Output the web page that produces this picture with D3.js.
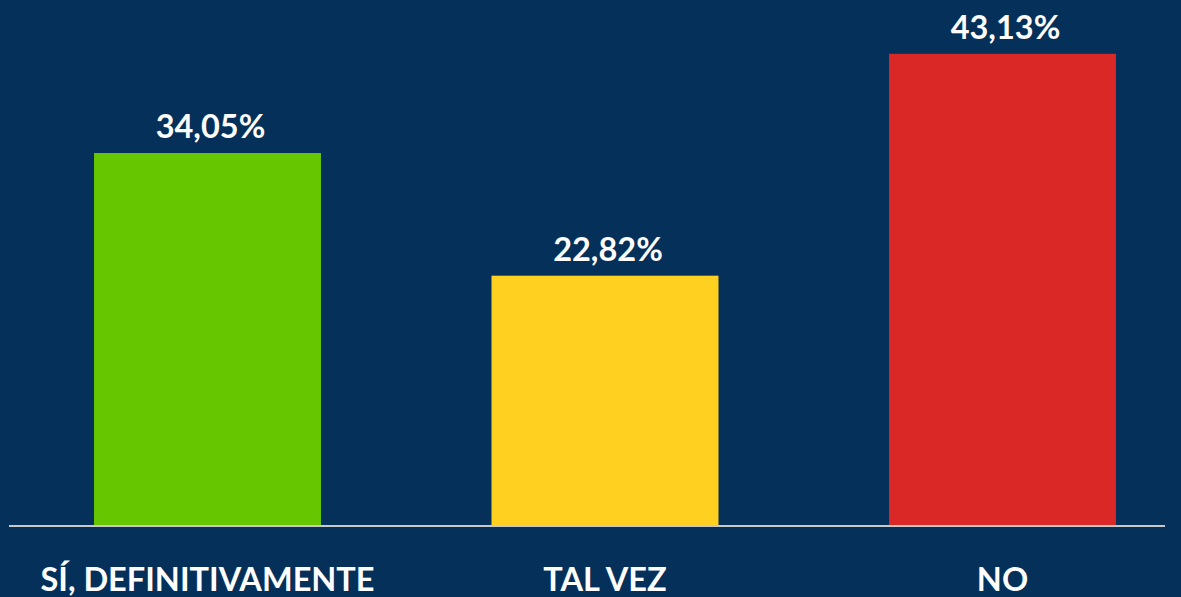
<!DOCTYPE html>
<meta charset="utf-8">
<style>
body{
	margin:0;
	background:#04305a;
	font-family:Lato, sans-serif;
}
</style>
<script src="https://cdn.jsdelivr.net/npm/d3@7"></script>
<div id="chart"></div>
<script>

var categories = ["SÍ, DEFINITIVAMENTE", "TAL VEZ", "NO"]
var values = [34.05, 22.82, 43.13]
var valueLabels = ["34,05%", "22,82%", "43,13%"]
var colors = ["#66c600", "#ffd01f", "#d92826"]

var width = 1181, height = 597
var baseline = 525

var svg = d3.select("#chart").append("svg")
	.attr("width", width).attr("height", height)

svg.append("rect").attr("width", width).attr("height", height).attr("fill", "#04305a")

// band layout so bars sit where they do in the picture
var x = d3.scaleBand()
	.domain(categories)
	.range([8.75, 1201.25])
	.paddingInner(0.429)
	.paddingOuter(0.2145)

var y = d3.scaleLinear()
	.domain([0, 10])
	.range([baseline, baseline - 109.25])

svg.selectAll(".bar")
	.data(values)
	.enter().append("rect")
	.attr("class", "bar")
	.attr("x", function(d, i){ return x(categories[i]) })
	.attr("width", x.bandwidth())
	.attr("y", function(d){ return y(d) })
	.attr("height", function(d){ return y(0) - y(d) })
	.attr("fill", function(d, i){ return colors[i] })

// value labels sit a little right of the bar centre in the original
svg.selectAll(".val")
	.data(values)
	.enter().append("text")
	.attr("class", "val")
	.attr("x", function(d, i){ return x(categories[i]) + x.bandwidth()/2 + 3 })
	.attr("y", function(d){ return y(d) - 15 })
	.attr("text-anchor", "middle")
	.attr("fill", "#ffffff")
	.style("font-size", "32.5px")
	.style("font-weight", "bold")
	.text(function(d, i){ return valueLabels[i] })

// axis line
svg.append("line")
	.attr("x1", 9).attr("x2", 1165)
	.attr("y1", baseline + 1).attr("y2", baseline + 1)
	.attr("stroke", "#c8c8c8")
	.attr("stroke-width", 2)

svg.selectAll(".cat")
	.data(categories)
	.enter().append("text")
	.attr("class", "cat")
	.attr("x", function(d){ return x(d) + x.bandwidth()/2 })
	.attr("y", 591)
	.attr("text-anchor", "middle")
	.attr("fill", "#ffffff")
	.style("font-size", "32.5px")
	.style("font-weight", "bold")
	.text(function(d){ return d })

</script>
